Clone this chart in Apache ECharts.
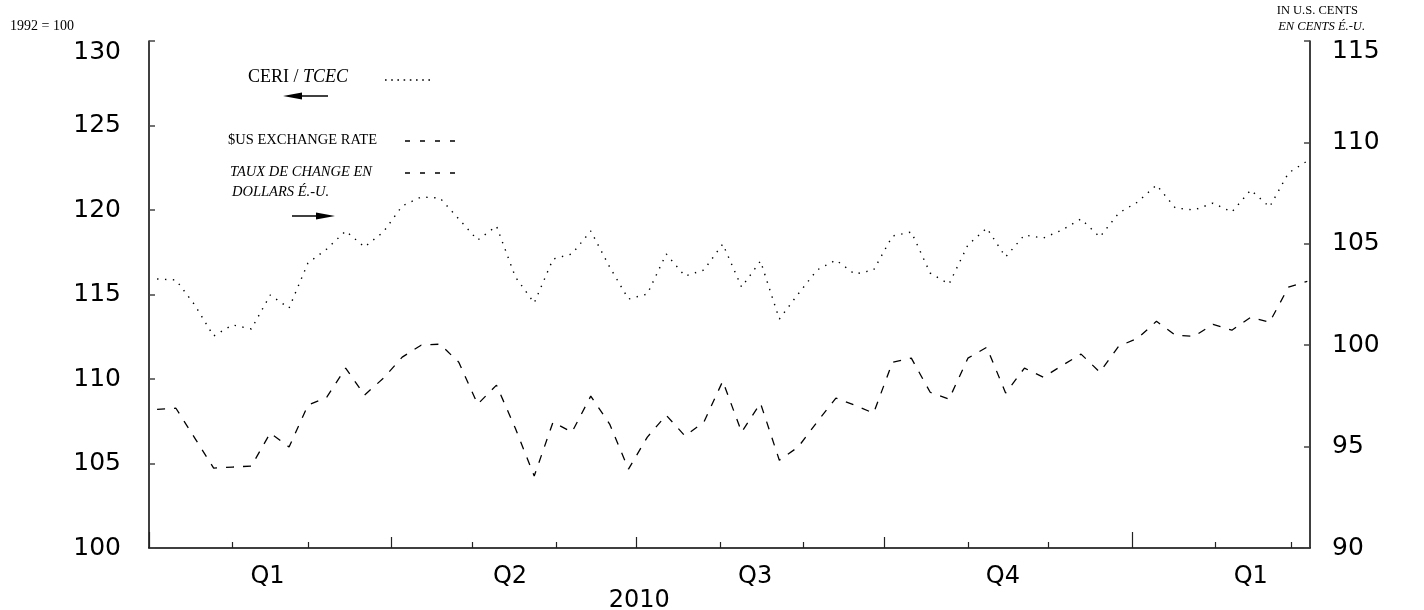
<!DOCTYPE html>
<html><head><meta charset="utf-8">
<script src="https://cdn.jsdelivr.net/npm/echarts@6/dist/echarts.min.js"></script>
<style>html,body{margin:0;padding:0;background:#fff}#c{width:1424px;height:610px}</style>
</head><body><div id="c"></div>
<script>
// ---- data (weekly) ----
const dates = [
 '2010-01-04','2010-01-11','2010-01-18','2010-01-25','2010-02-01','2010-02-08','2010-02-15','2010-02-22',
 '2010-03-01','2010-03-08','2010-03-15','2010-03-22','2010-03-29','2010-04-05','2010-04-12','2010-04-19',
 '2010-04-26','2010-05-03','2010-05-10','2010-05-17','2010-05-24','2010-05-31','2010-06-07','2010-06-14',
 '2010-06-21','2010-06-28','2010-07-05','2010-07-12','2010-07-19','2010-07-26','2010-08-02','2010-08-09',
 '2010-08-16','2010-08-23','2010-08-30','2010-09-06','2010-09-13','2010-09-20','2010-09-27','2010-10-04',
 '2010-10-11','2010-10-18','2010-10-25','2010-11-01','2010-11-08','2010-11-15','2010-11-22','2010-11-29',
 '2010-12-06','2010-12-13','2010-12-20','2010-12-27','2011-01-03','2011-01-10','2011-01-17','2011-01-24',
 '2011-01-31','2011-02-07','2011-02-14','2011-02-21','2011-02-28','2011-03-07'];
// CERI / TCEC, 1992 = 100 (left axis)
const ceri = [
 115.92,115.86,114.38,112.54,113.20,112.96,114.97,114.20,116.86,117.69,118.76,117.81,118.70,120.24,120.77,120.71,
 119.47,118.22,119.05,116.04,114.50,117.10,117.40,118.76,116.63,114.73,115.03,117.40,116.09,116.45,117.99,115.44,
 116.98,113.55,115.03,116.45,117.04,116.21,116.45,118.46,118.70,116.27,115.62,117.93,118.93,117.22,118.52,118.34,
 118.82,119.47,118.40,119.82,120.47,121.48,120.12,120.00,120.41,119.88,121.18,120.18,122.19,122.90];
// $US exchange rate, in U.S. cents (right axis)
const usd = [
 96.84,96.89,95.42,93.94,93.99,94.04,95.67,94.98,97.04,97.44,98.87,97.54,98.37,99.41,100.00,100.05,
 99.16,97.09,98.03,95.90,93.55,96.21,95.71,97.49,96.11,93.89,95.47,96.55,95.52,96.21,98.23,95.71,
 97.14,94.33,94.98,96.21,97.39,97.04,96.65,99.16,99.36,97.68,97.34,99.36,99.90,97.64,98.87,98.42,
 99.00,99.56,98.67,99.95,100.34,101.18,100.49,100.44,101.03,100.74,101.38,101.13,102.86,103.15];

const quarterLabels = ['Q1','Q2','Q3','Q4','Q1'];
const quarterLabelDates = ['2010-02-14','2010-05-15','2010-08-14','2010-11-14','2011-02-14'];
const monthTickDates = ['2010-02-01','2010-03-01','2010-05-01','2010-06-01','2010-08-01','2010-09-01',
 '2010-11-01','2010-12-01','2011-02-01','2011-03-01'];
const quarterTickDates = ['2010-04-01','2010-07-01','2010-10-01'];
const yearTickDates = ['2010-01-01','2011-01-01'];
const yearLabel = '2010';
const yearLabelDate = '2010-07-02';
const axisStart = '2010-01-01', axisEnd = '2011-03-08';

// day number since axisStart (x axis is in days)
function ts(s){const p=s.split('-').map(Number);return Date.UTC(p[0],p[1]-1,p[2]);}
const T0 = ts(axisStart);
function day(s){return Math.round((ts(s)-T0)/86400000);}
const qMap = {}; quarterLabelDates.forEach((d,i)=>{qMap[day(d)]=quarterLabels[i];});

const AXF = '"DejaVu Sans", sans-serif';
const SERIF = '"Liberation Serif","Times New Roman",serif';
const baseX = {type:'value', gridIndex:0, position:'bottom', offset:0, min:0, max:day(axisEnd), splitLine:{show:false}};

const chart = echarts.init(document.getElementById('c'), null, {renderer:'canvas'});
chart.setOption({
  animation:false,
  backgroundColor:'#fff',
  grid:{left:149, right:114, top:41, bottom:62, containLabel:false, outerBoundsMode:'none'},
  xAxis:[
    Object.assign({}, baseX, {
      axisLine:{show:true, onZero:false, lineStyle:{color:'#000', width:1.5}},
      axisTick:{show:true, inside:true, length:6, customValues:monthTickDates.map(day), lineStyle:{color:'#222', width:1.2}},
      axisLabel:{show:true, customValues:quarterLabelDates.map(day), formatter:v=>qMap[v]||'',
        color:'#000', fontFamily:AXF, fontSize:24, margin:17, hideOverlap:false}
    }),
    Object.assign({}, baseX, {
      axisLine:{show:false, onZero:false},
      axisTick:{show:true, inside:true, length:11, customValues:quarterTickDates.map(day), lineStyle:{color:'#222', width:1.2}},
      axisLabel:{show:false}
    }),
    Object.assign({}, baseX, {
      axisLine:{show:false, onZero:false},
      axisTick:{show:true, inside:true, length:16, customValues:yearTickDates.map(day), lineStyle:{color:'#222', width:1.2}},
      axisLabel:{show:true, customValues:[day(yearLabelDate)], formatter:()=>yearLabel,
        color:'#000', fontFamily:AXF, fontSize:24, margin:41}
    })
  ],
  yAxis:[
    {type:'value', position:'left', min:100, max:130, interval:5, splitLine:{show:false},
      axisLine:{show:true, onZero:false, lineStyle:{color:'#000', width:1.5}},
      axisTick:{show:true, inside:true, length:6, lineStyle:{color:'#444', width:1.5}},
      axisLabel:{color:'#000', fontFamily:AXF, fontSize:25, margin:28,
        formatter:v=> v===130 ? '{t|130}' : String(v),
        rich:{t:{fontFamily:AXF, fontSize:25, color:'#000', padding:[22,0,0,0]}}}
    },
    {type:'value', position:'right', min:90, max:115, interval:5, splitLine:{show:false},
      axisLine:{show:true, onZero:false, lineStyle:{color:'#000', width:1.5}},
      axisTick:{show:true, inside:true, length:6, lineStyle:{color:'#444', width:1.5}},
      axisLabel:{color:'#000', fontFamily:AXF, fontSize:25, margin:22,
        formatter:v=> v===115 ? '{t|115}' : String(v),
        rich:{t:{fontFamily:AXF, fontSize:25, color:'#000', padding:[20,0,0,0]}}}
    }
  ],
  series:[
    {name:'CERI / TCEC', type:'line', xAxisIndex:0, yAxisIndex:0, showSymbol:false, symbol:'none',
      data:dates.map((d,i)=>[day(d), ceri[i]]),
      lineStyle:{color:'#000', width:1.4, type:[1.4,6.5]}},
    {name:'$US EXCHANGE RATE', type:'line', xAxisIndex:0, yAxisIndex:1, showSymbol:false, symbol:'none',
      data:dates.map((d,i)=>[day(d), usd[i]]),
      lineStyle:{color:'#000', width:1.3, type:[8,9]}}
  ],
  graphic:[
    {type:'text', style:{x:10, y:26, text:'1992 = 100', font:'14px '+SERIF, fill:'#000', verticalAlign:'middle'}},
    {type:'text', style:{x:1358, y:11, text:'IN U.S. CENTS', font:'12.5px '+SERIF, fill:'#000', align:'right', verticalAlign:'middle'}},
    {type:'text', style:{x:1365, y:27, text:'EN CENTS É.-U.', font:'italic 12.5px '+SERIF, fill:'#000', align:'right', verticalAlign:'middle'}},
    {type:'text', style:{x:248, y:77, text:'{n|CERI / }{i|TCEC}', verticalAlign:'middle',
      rich:{n:{font:'18px '+SERIF, fill:'#000'}, i:{font:'italic 18px '+SERIF, fill:'#000'}}}},
    {type:'line', shape:{x1:385, y1:80, x2:434, y2:80}, style:{stroke:'#000', lineWidth:1.6, lineDash:[1.6,4.6]}},
    {type:'line', shape:{x1:298, y1:96, x2:328, y2:96}, style:{stroke:'#000', lineWidth:1.5}},
    {type:'polygon', shape:{points:[[283,96],[302,92.5],[302,99.5]]}, style:{fill:'#000'}},
    {type:'text', style:{x:228, y:140, text:'$US EXCHANGE RATE', font:'14.5px '+SERIF, fill:'#000', verticalAlign:'middle'}},
    {type:'line', shape:{x1:405, y1:141, x2:455, y2:141}, style:{stroke:'#000', lineWidth:1.3, lineDash:[5,10]}},
    {type:'text', style:{x:230, y:172, text:'TAUX DE CHANGE EN', font:'italic 14.5px '+SERIF, fill:'#000', verticalAlign:'middle'}},
    {type:'line', shape:{x1:405, y1:173, x2:455, y2:173}, style:{stroke:'#000', lineWidth:1.3, lineDash:[5,10]}},
    {type:'text', style:{x:232, y:192, text:'DOLLARS É.-U.', font:'italic 14.5px '+SERIF, fill:'#000', verticalAlign:'middle'}},
    {type:'line', shape:{x1:292, y1:216, x2:320, y2:216}, style:{stroke:'#000', lineWidth:1.5}},
    {type:'polygon', shape:{points:[[335,216],[316,212.5],[316,219.5]]}, style:{fill:'#000'}}
  ]
});
</script>
</body></html>
